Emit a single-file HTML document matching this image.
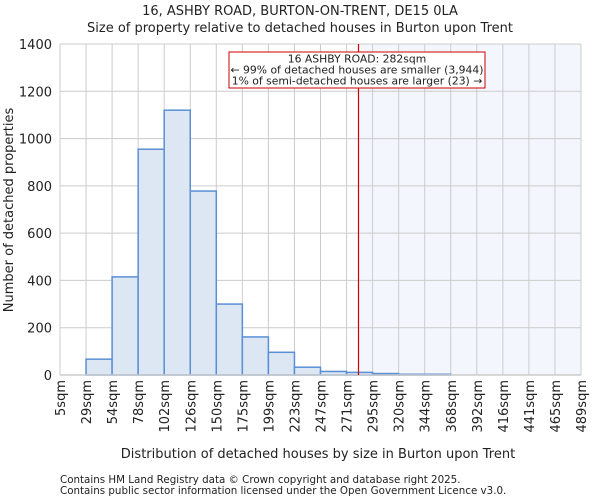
<!DOCTYPE html>
<html><head><meta charset="utf-8"><style>
body{margin:0;background:#fff;font-family:"DejaVu Sans","Liberation Sans",sans-serif;}
svg text{font-family:"DejaVu Sans","Liberation Sans",sans-serif;fill:#222;}
</style></head><body>
<svg id="c" width="600" height="500" viewBox="0 0 600 500">
<text x="300" y="15" text-anchor="middle" font-size="13">16, ASHBY ROAD, BURTON-ON-TRENT, DE15 0LA</text>
<text x="300" y="32" text-anchor="middle" font-size="13">Size of property relative to detached houses in Burton upon Trent</text>
<g id="plot"></g>
<text x="318" y="458" text-anchor="middle" font-size="13">Distribution of detached houses by size in Burton upon Trent</text>
<text transform="translate(13,210) rotate(-90)" text-anchor="middle" font-size="13">Number of detached properties</text>
<text x="60" y="483" font-size="10.3">Contains HM Land Registry data © Crown copyright and database right 2025.</text>
<text x="60" y="494" font-size="10.3">Contains public sector information licensed under the Open Government Licence v3.0.</text>
</svg>
<script>
const binLabels=["5sqm","29sqm","54sqm","78sqm","102sqm","126sqm","150sqm","175sqm","199sqm","223sqm","247sqm","271sqm","295sqm","320sqm","344sqm","368sqm","392sqm","416sqm","441sqm","465sqm","489sqm"];
const binEdges=[5,29,54,78,102,126,150,175,199,223,247,271,295,320,344,368,392,416,441,465,489];
const counts=[0,67,415,955,1120,778,300,161,96,33,15,11,6,3,3,0,0,0,0,0];
const yTicks=[0,200,400,600,800,1000,1200,1400];
const propertySize=282;
const NS="http://www.w3.org/2000/svg";
const L=60,R=581,T=44,B=375,yMax=1400,n=counts.length;
const xb=i=>L+(R-L)*i/n;
const xv=v=>{let i=0;while(i<n-1&&v>binEdges[i+1])i++;return xb(i)+(v-binEdges[i])/(binEdges[i+1]-binEdges[i])*(R-L)/n;};
const y=v=>B-(B-T)*v/yMax;
const g=document.getElementById('plot');
function mk(t,a){const e=document.createElementNS(NS,t);for(const k in a)e.setAttribute(k,a[k]);g.appendChild(e);return e;}
const px=xv(propertySize);
let sh=mk('rect',{x:px,y:T,width:R-px,height:B-T,fill:'#f3f6fd'});


yTicks.forEach(t=>{const l=mk('line',{x1:L,x2:R,y1:y(t),y2:y(t),stroke:'#cccccc'});


const tx=mk('text',{x:L-8,y:y(t)+5,'text-anchor':'end','font-size':13});tx.textContent=t;

});
binLabels.forEach((lb,i)=>{const l=mk('line',{x1:xb(i),x2:xb(i),y1:T,y2:B,stroke:'#cccccc'});


const tx=mk('text',{transform:`translate(${xb(i)+5},${B+5}) rotate(-90)`,'text-anchor':'end','font-size':13});tx.textContent=lb;

});
counts.forEach((c,i)=>{if(c<=0)return;const r=mk('rect',{x:xb(i),y:y(c),width:xb(i+1)-xb(i),height:B-y(c),fill:'#dde7f4',stroke:'#5a8fd6','stroke-width':1.5});

});
const ax=mk('line',{x1:L,x2:R,y1:B,y2:B,stroke:'#cccccc','stroke-width':1.5});


const rl=mk('line',{x1:px,x2:px,y1:T,y2:B,stroke:'#cc0000','stroke-width':1.2});


const bx=mk('rect',{x:229,y:52,width:256,height:36,fill:'#fff',stroke:'#cc0000','stroke-width':1});


["16 ASHBY ROAD: 282sqm","← 99% of detached houses are smaller (3,944)","1% of semi-detached houses are larger (23) →"].forEach((s,i)=>{const t=mk('text',{x:357,y:62.5+i*11,'text-anchor':'middle','font-size':10.8});t.textContent=s;

});
</script>
</body></html>
